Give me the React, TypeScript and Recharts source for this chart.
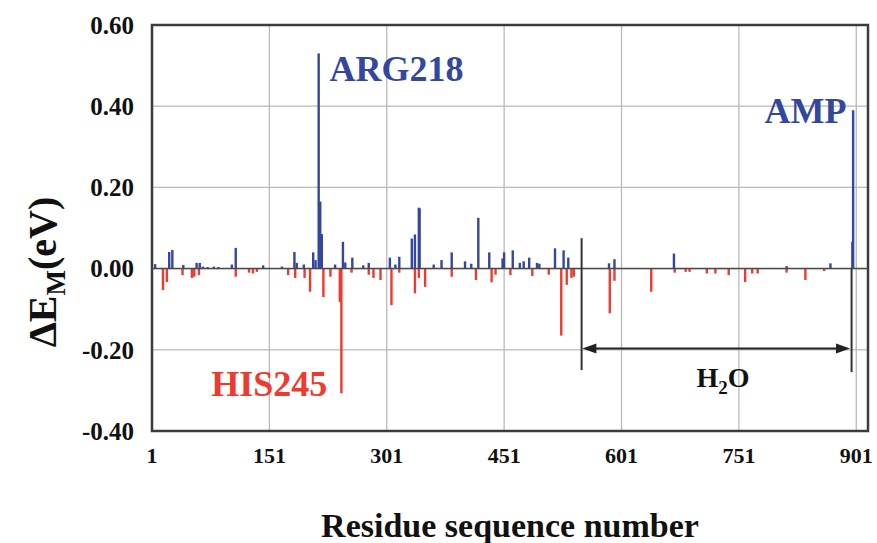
import { BarChart, Bar, XAxis, YAxis, CartesianGrid, ReferenceLine, ReferenceArea, ReferenceDot } from 'recharts';

// residue positions and decomposition energies
const blueResidues = [
  5, 23, 27, 41, 58, 62, 66, 72, 80, 86, 103, 108, 143, 167, 183, 186, 195, 207, 210, 214,
  216, 218, 235, 245, 248, 257, 271, 278, 305, 312, 317, 333, 337, 342, 343, 361, 371, 384,
  401, 409, 418, 432, 449, 451, 462, 471, 476, 483, 493, 496, 516, 527, 533, 585, 592, 668,
  812, 868, 896, 897,
];
const blueValues = [
  0.011, 0.041, 0.046, 0.009, 0.014, 0.014, 0.005, 0.004, 0.005, 0.004, 0.01, 0.051, 0.008,
  0.005, 0.041, 0.014, 0.01, 0.04, 0.021, 0.53, 0.165, 0.085, 0.01, 0.066, 0.015, 0.027,
  0.008, 0.014, 0.027, 0.01, 0.029, 0.074, 0.084, 0.15, 0.148, 0.01, 0.021, 0.04, 0.018,
  0.012, 0.125, 0.04, 0.025, 0.04, 0.045, 0.014, 0.018, 0.027, 0.014, 0.012, 0.05, 0.045,
  0.027, 0.013, 0.023, 0.037, 0.006, 0.013, 0.066, 0.39,
];
const redResidues = [
  15, 20, 40, 52, 55, 61, 108, 125, 130, 135, 175, 184, 196, 203, 220, 229, 241, 243, 256,
  278, 284, 293, 307, 317, 337, 342, 350, 384, 415, 435, 440, 459, 487, 508, 524, 531, 537,
  540, 586, 592, 639, 669, 683, 688, 710, 721, 738, 759, 768, 775, 812, 836, 860,
];
const redValues = [
  -0.053, -0.033, -0.016, -0.023, -0.02, -0.016, -0.02, -0.01, -0.012, -0.008, -0.016,
  -0.023, -0.023, -0.057, -0.07, -0.02, -0.082, -0.307, -0.01, -0.015, -0.023, -0.028,
  -0.09, -0.01, -0.061, -0.023, -0.045, -0.02, -0.028, -0.034, -0.015, -0.016, -0.018,
  -0.015, -0.165, -0.04, -0.023, -0.02, -0.11, -0.03, -0.057, -0.01, -0.008, -0.008,
  -0.012, -0.012, -0.016, -0.033, -0.012, -0.012, -0.01, -0.028, -0.006,
];

const xTicks = [1, 151, 301, 451, 601, 751, 901];
const yTicks = [-0.4, -0.2, 0, 0.2, 0.4, 0.6];
const waterRange = [550, 895];

const BLUE = '#34479e';
const RED = '#ee3a2f';
const SERIF = '"Liberation Serif", "Times New Roman", serif';

const residues = Array.from(new Set([...blueResidues, ...redResidues])).sort((a, b) => a - b);
const chartData = residues.map((r) => {
  const bi = blueResidues.indexOf(r);
  const ri = redResidues.indexOf(r);
  return { res: r, pos: bi >= 0 ? blueValues[bi] : 0, neg: ri >= 0 ? redValues[ri] : 0 };
});

// residues sit closer than a pixel, so draw each bar with a fixed width centred on its slot
function Stick(props: any) {
  const { x, y, width, height, fill } = props;
  if (!height) return null;
  const w = 2.4;
  const top = Math.min(y, y + height);
  return <rect x={x + width / 2 - w / 2} y={top} width={w} height={Math.abs(height)} fill={fill} />;
}

function Annot(props: any) {
  const { viewBox, text, color, size } = props;
  return (
    <text x={viewBox.x} y={viewBox.y} fill={color} fontFamily={SERIF} fontWeight={700} fontSize={size}>
      {text}
    </text>
  );
}

function WaterLabel(props: any) {
  const { viewBox } = props;
  return (
    <text x={viewBox.x} y={viewBox.y} fill="#111" fontFamily={SERIF} fontWeight={700} fontSize={28}>
      H
      <tspan fontSize={19} dy={7}>2</tspan>
      <tspan dy={-7}>O</tspan>
    </text>
  );
}

function Arrow(props: any) {
  const { x1, y1, x2, y2 } = props;
  const h = 14;
  const w = 5;
  return (
    <g>
      <line x1={x1 + 4} y1={y1} x2={x2 - 4} y2={y2} stroke="#222" strokeWidth={2} />
      <path d={`M${x1},${y1} L${x1 + h},${y1 - w} L${x1 + h},${y1 + w} Z`} fill="#222" />
      <path d={`M${x2},${y2} L${x2 - h},${y2 - w} L${x2 - h},${y2 + w} Z`} fill="#222" />
    </g>
  );
}

function YTitle() {
  return (
    <text
      transform="translate(56, 272) rotate(-90)"
      textAnchor="middle"
      fill="#111"
      fontFamily={SERIF}
      fontWeight={700}
      fontSize={40}
    >
      ΔE
      <tspan fontSize={27} dy={9}>M</tspan>
      <tspan dy={-9}>(eV)</tspan>
    </text>
  );
}

export default function App() {
  return (
    <div style={{ position: 'absolute', left: 0, top: 0, width: 877, height: 543, background: '#fff' }}>
      <BarChart
        width={877}
        height={543}
        data={chartData}
        stackOffset="sign"
        margin={{ top: 25, right: 9, bottom: 0, left: 0 }}
      >
        <CartesianGrid stroke="#b9b9b9" strokeWidth={1.3} />
        <XAxis
          dataKey="res"
          type="number"
          height={112}
          domain={[1, 916]}
          ticks={xTicks}
          allowDataOverflow
          axisLine={false}
          tickLine={false}
          tickSize={0}
          tickMargin={16}
          interval={0}
          tick={{ fontFamily: SERIF, fontWeight: 700, fontSize: 22, fill: '#111' }}
          label={{
            value: 'Residue sequence number',
            position: 'insideBottom',
            offset: 6,
            style: { fontFamily: SERIF, fontWeight: 700, fontSize: 34, fill: '#111' },
          }}
        />
        <YAxis
          width={152}
          domain={[-0.4, 0.6]}
          ticks={yTicks}
          allowDataOverflow
          axisLine={false}
          tickLine={false}
          tickSize={0}
          tickMargin={18}
          interval={0}
          tickFormatter={(v: number) => v.toFixed(2)}
          tick={{ fontFamily: SERIF, fontWeight: 700, fontSize: 25, fill: '#111' }}
          label={{ content: () => <YTitle /> }}
        />
        <ReferenceLine y={0} stroke="#4a4a4a" strokeWidth={1.5} />
        <Bar dataKey="pos" stackId="e" fill={BLUE} shape={(p: any) => <Stick {...p} />} isAnimationActive={false} />
        <Bar dataKey="neg" stackId="e" fill={RED} shape={(p: any) => <Stick {...p} />} isAnimationActive={false} />
        <ReferenceLine
          segment={[{ x: waterRange[0], y: 0.075 }, { x: waterRange[0], y: -0.25 }]}
          stroke="#333"
          strokeWidth={2}
        />
        <ReferenceLine
          segment={[{ x: waterRange[1], y: 0 }, { x: waterRange[1], y: -0.255 }]}
          stroke="#333"
          strokeWidth={2}
        />
        <ReferenceLine
          segment={[{ x: waterRange[0] + 1, y: -0.197 }, { x: waterRange[1] - 2, y: -0.197 }]}
          shape={(p: any) => <Arrow {...p} />}
        />
        <ReferenceArea
          x1={1}
          x2={916}
          y1={-0.4}
          y2={0.6}
          fill="none"
          stroke="#3c3c3c"
          strokeWidth={2.5}
          ifOverflow="visible"
        />
        <ReferenceDot x={229} y={0.459} r={1} fill="none" stroke="none" ifOverflow="visible"
          label={(p: any) => <Annot {...p} text="ARG218" color={BLUE} size={36} />} />
        <ReferenceDot x={785} y={0.356} r={1} fill="none" stroke="none" ifOverflow="visible"
          label={(p: any) => <Annot {...p} text="AMP" color={BLUE} size={36} />} />
        <ReferenceDot x={78} y={-0.317} r={1} fill="none" stroke="none" ifOverflow="visible"
          label={(p: any) => <Annot {...p} text="HIS245" color={RED} size={36} />} />
        <ReferenceDot x={698} y={-0.294} r={1} fill="none" stroke="none" ifOverflow="visible"
          label={(p: any) => <WaterLabel {...p} />} />
      </BarChart>
    </div>
  );
}
